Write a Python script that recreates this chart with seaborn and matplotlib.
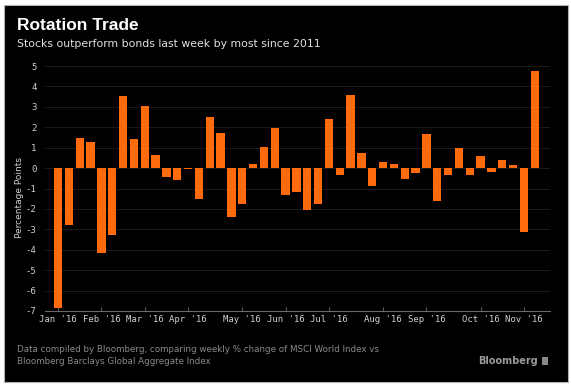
import pandas as pd
import seaborn as sns
import matplotlib.pyplot as plt
from matplotlib.patches import Rectangle

# weekly % change, stocks (MSCI World) minus bonds (Bloomberg Barclays Global Agg)
weeks = pd.date_range('2016-01-08', periods=45, freq='W-FRI')
diff = [-6.85, -2.8, 1.48, 1.27, -4.14, -3.3, 3.54, 1.45, 3.02, 0.62,
        -0.44, -0.58, -0.03, -1.5, 2.51, 1.7, -2.37, -1.76, 0.2, 1.04,
        1.99, -1.33, -1.16, -2.07, -1.76, 2.4, -0.36, 3.6, 0.75, -0.88,
        0.28, 0.21, -0.54, -0.26, 1.66, -1.6, -0.36, 1.01, -0.36, 0.59,
        -0.2, 0.42, 0.16, -3.12, 4.78]
yticks = list(range(-7, 6))

data = pd.DataFrame({'week': weeks.strftime('%Y-%m-%d'), 'diff': diff})

# first week of each month gets a tick
month_pos = [i for i in range(len(weeks)) if i == 0 or weeks[i].month != weeks[i - 1].month]
month_lbl = [weeks[i].strftime("%b '%y") for i in month_pos]

sns.set_theme(style='dark')
plt.rcParams['font.family'] = ['DejaVu Sans']

fig = plt.figure(figsize=(5.71, 3.88), dpi=100)
fig.patch.set_facecolor('white')
# black card with thin grey frame
fig.patches.append(Rectangle((4 / 571, 6 / 388), 564 / 571, 377 / 388, transform=fig.transFigure,
                             facecolor='black', edgecolor='#b0b0b0', linewidth=0.8, zorder=-5))

ax = fig.add_axes([45 / 571, 1 - 311 / 388, 505 / 571, (311 - 62) / 388])
ax.set_zorder(2)
ax.set_facecolor('black')
sns.barplot(x='week', y='diff', data=data, ax=ax, color='#FF6A0D', width=0.77,
            saturation=1, edgecolor='none', zorder=3)

ax.set_xlim(-1.2, 45.4)
ax.set_ylim(-7, 5.2)
ax.set_yticks(yticks)
ax.set_yticklabels([str(t) for t in yticks], family='DejaVu Sans Mono', fontsize=6.5, color='#d0d0d0')
ax.set_xticks(month_pos)
ax.set_xticklabels(month_lbl, family='DejaVu Sans Mono', fontsize=6.5, color='#d0d0d0')
ax.set_xlabel('')
ax.set_ylabel('')

ax.grid(axis='y', color='#1c1c1c', linewidth=0.7, zorder=0)
ax.grid(axis='x', visible=False)
for side in ['top', 'right', 'left']:
    ax.spines[side].set_visible(False)
ax.spines['bottom'].set_color('#6a6a6a')
ax.spines['bottom'].set_linewidth(0.8)
ax.tick_params(axis='x', direction='in', length=3, width=0.6, color='#6a6a6a', pad=3, bottom=True)
ax.tick_params(axis='y', length=0, pad=6)

fig.text(20 / 571, 1 - 197 / 388, 'Percentage Points', rotation=90, ha='center', va='center',
         fontsize=6.5, color='#d0d0d0')

fig.text(17 / 571, 1 - 26 / 388, 'Rotation Trade', fontsize=12.5, fontweight='bold', color='white',
         va='center', family='Liberation Sans')
fig.text(17 / 571, 1 - 44 / 388, 'Stocks outperform bonds last week by most since 2011', fontsize=7.8,
         color='#e0e0e0', va='center')

fig.text(17 / 571, 1 - 349 / 388, 'Data compiled by Bloomberg, comparing weekly % change of MSCI World Index vs',
         fontsize=6.3, color='#8a8a8a', va='center')
fig.text(17 / 571, 1 - 361 / 388, 'Bloomberg Barclays Global Aggregate Index',
         fontsize=6.3, color='#8a8a8a', va='center')
fig.text(538 / 571, 1 - 361 / 388, 'Bloomberg', fontsize=7, fontweight='bold', color='#9a9a9a',
         va='center', ha='right')
fig.patches.append(Rectangle((542 / 571, 1 - 365 / 388), 6 / 571, 8 / 388, transform=fig.transFigure,
                             facecolor='#8a8a8a', edgecolor='none', zorder=2))

fig.savefig('out.png', dpi=100, facecolor=fig.get_facecolor())
